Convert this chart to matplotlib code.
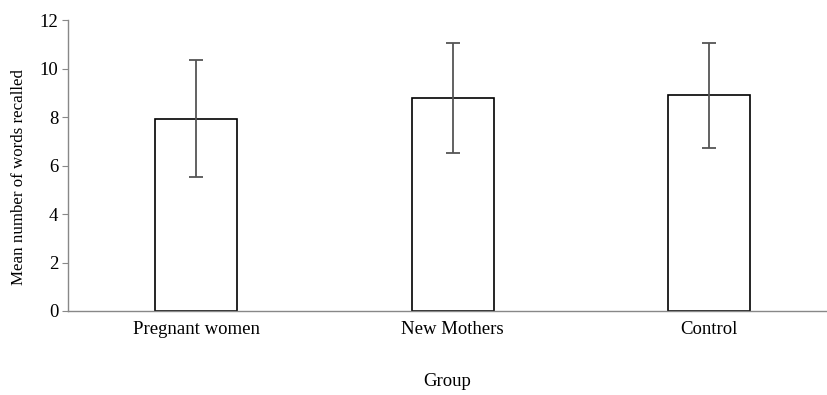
import numpy as np
import matplotlib.pyplot as plt

groups = ['Pregnant women', 'New Mothers', 'Control']
means = [7.94, 8.77, 8.90]
sds = [2.41, 2.27, 2.16]

plt.rcParams['font.family'] = ['Liberation Serif', 'DejaVu Serif']

fig = plt.figure(figsize=(8.27, 3.95), dpi=100)
ax = fig.add_axes([0.0822, 0.2127, 0.9178, 0.7363])

x = np.arange(len(groups))
ax.bar(x, means, width=0.32, color='white', edgecolor='black', linewidth=1.2, zorder=2)
ax.errorbar(x, means, yerr=sds, fmt='none', ecolor='#555555', elinewidth=1.3,
            capsize=5, capthick=1.3, zorder=3)

ax.set_xlim(-0.5, 2.46)
ax.set_ylim(0, 12)
ax.set_yticks(range(0, 13, 2))
ax.set_xticks(x)
ax.set_xticklabels(groups, fontsize=13.5)
ax.tick_params(axis='y', labelsize=13.5, length=4, color='#888888', pad=3)
ax.tick_params(axis='x', length=0, pad=7)

for side in ['top', 'right']:
    ax.spines[side].set_visible(False)
for side in ['left', 'bottom']:
    ax.spines[side].set_color('#888888')
    ax.spines[side].set_linewidth(1.0)

# axis titles placed in figure pixels to match the reference layout
fig.text(19 / 827, 1 - 177 / 395, 'Mean number of words recalled', fontsize=12.2,
         rotation=90, ha='center', va='center')
fig.text(0.5413, 1 - 382 / 395, 'Group', fontsize=13.5, ha='center', va='center')

fig.savefig('out.png', dpi=100)
